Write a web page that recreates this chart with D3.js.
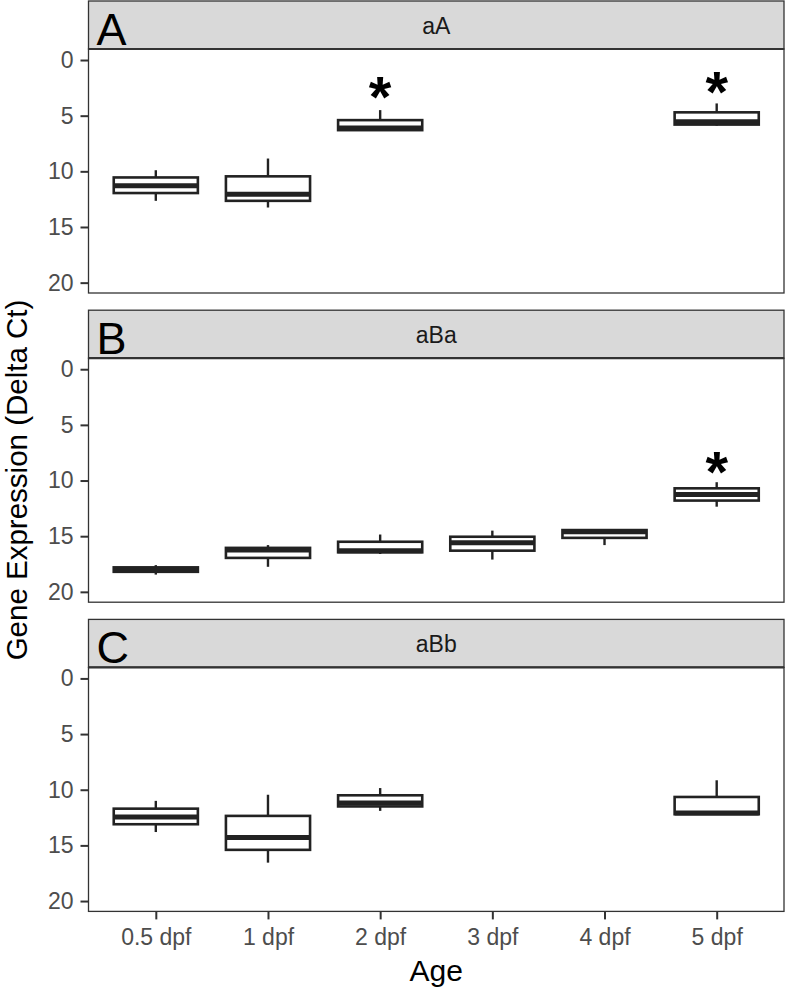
<!DOCTYPE html>
<html>
<head>
<meta charset="utf-8">
<script src="https://cdn.jsdelivr.net/npm/d3@7"></script>
<style>
  html, body { margin: 0; padding: 0; background: #fff; }
  svg { display: block; }
</style>
</head>
<body>
<script>
// ---------------- DATA ----------------
const categories = ["0.5 dpf", "1 dpf", "2 dpf", "3 dpf", "4 dpf", "5 dpf"];
const genes = ["aA", "aBa", "aBb"];
const panelLetters = ["A", "B", "C"];
const yTicks = [0, 5, 10, 15, 20];

// box stats per category: [lowWhisker, q1, median, q3, highWhisker] (null = no data)
const boxesAA = [
  [9.9, 10.55, 11.3, 11.95, 12.65],
  [8.85, 10.45, 12.05, 12.65, 13.25],
  [4.5, 5.4, 6.1, 6.3, 6.3],
  null,
  null,
  [3.9, 4.7, 5.55, 5.8, 5.9]
];
const boxesABa = [
  [17.6, 17.8, 18.0, 18.2, 18.45],
  [15.8, 16.05, 16.25, 16.95, 17.75],
  [14.85, 15.5, 16.3, 16.45, 16.6],
  [14.5, 15.05, 15.6, 16.3, 17.1],
  [14.45, 14.45, 14.6, 15.15, 15.8],
  [10.15, 10.7, 11.25, 11.8, 12.35]
];
const boxesABb = [
  [11.0, 11.7, 12.45, 13.1, 13.8],
  [10.45, 12.35, 14.3, 15.4, 16.55],
  [9.85, 10.5, 11.2, 11.5, 11.9],
  null,
  null,
  [9.15, 10.65, 12.1, 12.2, 12.2]
];
const panelBoxes = [boxesAA, boxesABa, boxesABb];

// significance markers: [category, y value]
const starsAA = [["2 dpf", 2.4], ["5 dpf", 1.95]];
const starsABa = [["5 dpf", 8.3]];
const starsABb = [];
const panelStars = [starsAA, starsABa, starsABb];

const xTitle = "Age";
const yTitle = "Gene Expression (Delta Ct)";

// ---------------- LAYOUT ----------------
const W = 786, H = 989;
const x0 = 88.5, x1 = 784;
const panelTop0 = 1, panelPeriod = 309.2, stripH = 48, plotH = 244;

const svg = d3.select("body").append("svg")
  .attr("width", W).attr("height", H);

const x = d3.scalePoint().domain(categories).range([x0, x1]).padding(0.6);
const boxW = x.step() * 0.75;
const sans = "'Liberation Sans', Arial, Helvetica, sans-serif";

genes.forEach((g, i) => {
  const top = panelTop0 + i * panelPeriod;
  const pTop = top + stripH;
  const pBot = pTop + plotH;
  const y = d3.scaleLinear().domain([-0.99, 20.93]).range([pTop, pBot]);

  // strip
  svg.append("rect")
    .attr("x", x0).attr("y", top).attr("width", x1 - x0).attr("height", stripH)
    .attr("fill", "#d9d9d9").attr("stroke", "#333").attr("stroke-width", 1.3);
  svg.append("text")
    .attr("x", (x0 + x1) / 2).attr("y", top + 33)
    .attr("text-anchor", "middle")
    .attr("font-family", sans).attr("font-size", 23).attr("fill", "#1a1a1a")
    .text(g);
  svg.append("text")
    .attr("x", x0 + 8).attr("y", top + 43.5)
    .attr("font-family", sans).attr("font-size", 45)
    .attr("fill", "#000")
    .text(panelLetters[i]);

  // panel background
  svg.append("rect")
    .attr("x", x0).attr("y", pTop).attr("width", x1 - x0).attr("height", plotH)
    .attr("fill", "#fff");

  // boxes
  const gb = svg.append("g");
  panelBoxes[i].forEach((b, j) => {
    if (!b) return;
    const cx = x(categories[j]);
    const [lo, q1, med, q3, hi] = b;
    gb.append("line").attr("x1", cx).attr("x2", cx)
      .attr("y1", y(lo)).attr("y2", y(q1))
      .attr("stroke", "#222").attr("stroke-width", 2.4);
    gb.append("line").attr("x1", cx).attr("x2", cx)
      .attr("y1", y(q3)).attr("y2", y(hi))
      .attr("stroke", "#222").attr("stroke-width", 2.4);
    gb.append("rect")
      .attr("x", cx - boxW / 2).attr("y", y(q1))
      .attr("width", boxW).attr("height", Math.max(0.5, y(q3) - y(q1)))
      .attr("fill", "#fff").attr("stroke", "#222").attr("stroke-width", 2.6);
    gb.append("line")
      .attr("x1", cx - boxW / 2).attr("x2", cx + boxW / 2)
      .attr("y1", y(med)).attr("y2", y(med))
      .attr("stroke", "#222").attr("stroke-width", 5);
  });

  // stars
  panelStars[i].forEach(([c, v]) => {
    svg.append("text")
      .attr("x", x(c)).attr("y", y(v) + 30)
      .attr("text-anchor", "middle")
      .attr("font-family", sans).attr("font-weight", "bold")
      .attr("font-size", 58).attr("fill", "#000")
      .text("*");
  });

  // panel border
  svg.append("rect")
    .attr("x", x0).attr("y", pTop).attr("width", x1 - x0).attr("height", plotH)
    .attr("fill", "none").attr("stroke", "#333").attr("stroke-width", 1.3);
  svg.append("line").attr("x1", x0).attr("x2", x1).attr("y1", pTop).attr("y2", pTop)
    .attr("stroke", "#333").attr("stroke-width", 2.2);

  // y axis
  const ya = svg.append("g").attr("transform", `translate(${x0},0)`)
    .call(d3.axisLeft(y).tickValues(yTicks).tickSize(8).tickPadding(7));
  ya.select(".domain").remove();
  ya.selectAll(".tick line").attr("stroke", "#333").attr("stroke-width", 2);
  ya.selectAll(".tick text").attr("font-family", sans).attr("font-size", 23)
    .attr("fill", "#4d4d4d");

  // x axis only bottom panel
  if (i === genes.length - 1) {
    const xa = svg.append("g").attr("transform", `translate(0,${pBot})`)
      .call(d3.axisBottom(x).tickSize(8).tickPadding(9));
    xa.select(".domain").remove();
    xa.selectAll(".tick line").attr("stroke", "#333").attr("stroke-width", 2);
    xa.selectAll(".tick text").attr("font-family", sans).attr("font-size", 23)
      .attr("fill", "#4d4d4d");
  }
});

// titles
svg.append("text")
  .attr("x", (x0 + x1) / 2).attr("y", 981)
  .attr("text-anchor", "middle")
  .attr("font-family", sans).attr("font-size", 30).attr("fill", "#000")
  .text(xTitle);
svg.append("text")
  .attr("transform", `translate(27,${480}) rotate(-90)`)
  .attr("text-anchor", "middle")
  .attr("font-family", sans).attr("font-size", 29.5).attr("fill", "#000")
  .text(yTitle);
</script>
</body>
</html>
